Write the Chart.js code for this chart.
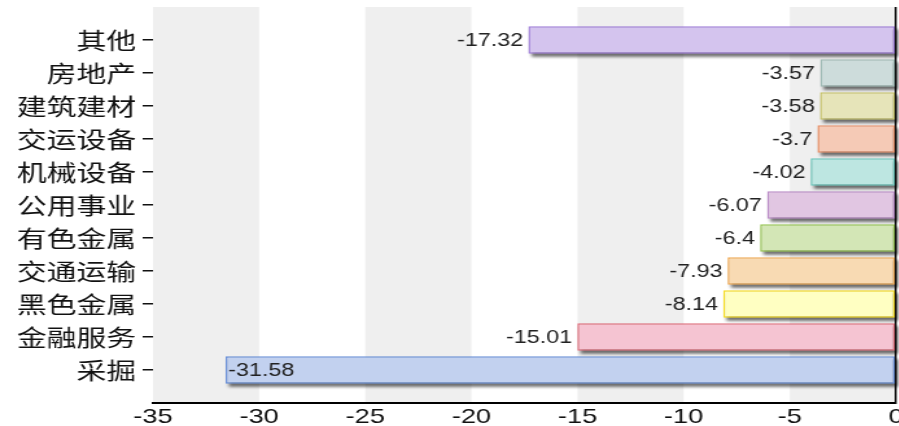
<!DOCTYPE html>
<html>
<head>
<meta charset="utf-8">
<script src="https://cdn.jsdelivr.net/npm/chart.js@4"></script>
<style>
  html, body { margin: 0; padding: 0; background: #fff; overflow: hidden; width: 899px; height: 426px; }
  #wrap { position: absolute; left: 0; top: 0; width: 700px; height: 426px; transform: scaleX(1.2966); transform-origin: 0 0; }
</style>
</head>
<body>
<div id="wrap"><canvas id="c"></canvas></div>
<script>
// Industry names, top to bottom
const categories = ['其他', '房地产', '建筑建材', '交运设备', '机械设备', '公用事业', '有色金属', '交通运输', '黑色金属', '金融服务', '采掘'];
// Change (%) per industry
const values = [-17.32, -3.57, -3.58, -3.7, -4.02, -6.07, -6.4, -7.93, -8.14, -15.01, -31.58];
// Bar fill and outline colours
const fillColors = ['#d4c4ee', '#cddcdb', '#e6e4b9', '#f5cab6', '#bde6e1', '#e1c6e2', '#d3e6b6', '#f8dab3', '#ffffc2', '#f5c4d2', '#c2d1ef'];
const edgeColors = ['#a07fd9', '#9fbab5', '#c9c56c', '#e9936c', '#6ec9be', '#ba8cc7', '#95c452', '#f0aa55', '#f6dc22', '#e0707e', '#6b91d9'];
// Value axis ticks
const xMin = -35, xMax = 0, xStep = 5;

// One empty slot above and below the rows leaves room at the plot edges
const labels = [''].concat(categories, ['']);
const data = [null].concat(values, [null]);
const bg = ['transparent'].concat(fillColors, ['transparent']);
const bd = ['transparent'].concat(edgeColors, ['transparent']);

// Alternating grey bands behind the bars
const bandsPlugin = {
  id: 'bands',
  beforeDraw(chart) {
    const { ctx, chartArea: a, scales: { x } } = chart;
    ctx.save();
    ctx.fillStyle = '#efefef';
    for (let v = xMin; v < xMax; v += 2 * xStep) {
      const l = x.getPixelForValue(v), r = x.getPixelForValue(v + xStep);
      ctx.fillRect(l, a.top, r - l, a.bottom - a.top);
    }
    ctx.restore();
  }
};

// Soft drop shadow under each bar
const shadowPlugin = {
  id: 'barShadow',
  beforeDatasetsDraw(chart) {
    const { ctx, chartArea: a } = chart;
    const meta = chart.getDatasetMeta(0);
    ctx.save();
    ctx.beginPath();
    ctx.rect(a.left, a.top, a.right - a.left + 4, a.bottom - a.top);
    ctx.clip();
    ctx.filter = 'blur(1.5px)';
    ctx.fillStyle = 'rgba(0,0,0,0.55)';
    meta.data.forEach((el, i) => {
      if (data[i] == null) return;
      const p = el.getProps(['x', 'y', 'base', 'height'], true);
      const left = Math.min(p.x, p.base), w = Math.abs(p.x - p.base);
      ctx.fillRect(left + 2.5, p.y - p.height / 2 + 3, w, p.height);
    });
    ctx.restore();
  }
};

// Value text beside the end of each bar, or inside it when there is no room
const valueLabelPlugin = {
  id: 'valueLabels',
  afterDatasetsDraw(chart) {
    const { ctx, chartArea: a } = chart;
    const meta = chart.getDatasetMeta(0);
    ctx.save();
    ctx.font = '18px "Liberation Sans", Arial, sans-serif';
    ctx.fillStyle = '#222';
    ctx.textBaseline = 'middle';
    meta.data.forEach((el, i) => {
      const v = data[i];
      if (v == null) return;
      const p = el.getProps(['x', 'y', 'base'], true);
      const left = Math.min(p.x, p.base);
      const txt = String(v);
      const w = ctx.measureText(txt).width;
      if (left - a.left < w + 15) {
        ctx.textAlign = 'left';
        ctx.fillText(txt, left + 2, p.y + 1);
      } else {
        ctx.textAlign = 'right';
        ctx.fillText(txt, left - 4, p.y + 1);
      }
    });
    ctx.restore();
  }
};

new Chart(document.getElementById('c'), {
  type: 'bar',
  data: {
    labels: labels,
    datasets: [{
      data: data,
      backgroundColor: bg,
      borderColor: bd,
      borderWidth: 1.5,
      borderSkipped: false,
      barPercentage: 0.84,
      categoryPercentage: 1
    }]
  },
  options: {
    indexAxis: 'y',
    responsive: true,
    maintainAspectRatio: false,
    animation: false,
    layout: { padding: { top: 7, left: 0, right: 9, bottom: 0 } },
    plugins: { legend: { display: false }, tooltip: { enabled: false } },
    scales: {
      x: {
        type: 'linear',
        min: xMin,
        max: xMax,
        afterFit(scale) {
          scale.height = 23;
          scale.paddingLeft = 0;
          scale.paddingRight = 0;
        },
        ticks: {
          stepSize: xStep,
          maxRotation: 0,
          autoSkip: false,
          padding: 2,
          color: '#111',
          font: { family: '"Liberation Sans", Arial, sans-serif', size: 21 }
        },
        grid: {
          drawTicks: false,
          color: (c) => (c.tick && c.tick.value === 0 ? '#000' : 'transparent'),
          lineWidth: 1.5
        },
        border: { display: true, color: '#000', width: 2 }
      },
      y: {
        type: 'category',
        offset: false,
        afterFit(scale) {
          scale.width = 118;
          scale.paddingTop = 0;
          scale.paddingBottom = 0;
        },
        ticks: {
          autoSkip: false,
          padding: 5,
          color: '#111',
          font: { family: '"Noto Sans CJK SC", sans-serif', size: 23 }
        },
        grid: {
          drawOnChartArea: false,
          drawTicks: true,
          tickLength: 8,
          offset: false,
          lineWidth: 1.5,
          color: (c) => (c.index === 0 || c.index === labels.length - 1 ? 'transparent' : '#111')
        },
        border: { display: false }
      }
    }
  },
  plugins: [bandsPlugin, shadowPlugin, valueLabelPlugin]
});
</script>
</body>
</html>
